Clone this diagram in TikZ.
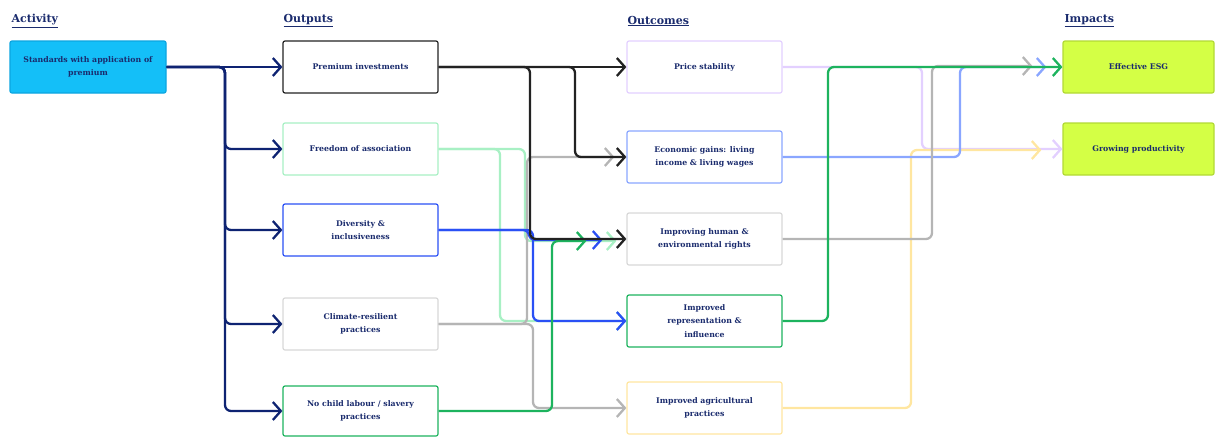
\documentclass[tikz,border=0pt]{standalone}
\usepackage{fontspec}
\setmainfont{DejaVu Serif}
\usetikzlibrary{%
  arrows.meta,% Straight Barb
  positioning%
}
\definecolor{txtnavy}{HTML}{1A2B6D}
\definecolor{navy}{HTML}{0E2372}
\definecolor{actfill}{HTML}{14BFF8}
\definecolor{actline}{HTML}{0BA5E0}
\definecolor{blk}{HTML}{222222}
\definecolor{lgreen}{HTML}{A8F0C4}
\definecolor{blu}{HTML}{2A50F5}
\definecolor{gry}{HTML}{B5B5B5}
\definecolor{lgry}{HTML}{D8D8D8}
\definecolor{grn}{HTML}{1DB35E}
\definecolor{lav}{HTML}{E3D0FF}
\definecolor{lblue}{HTML}{8AA6FF}
\definecolor{yel}{HTML}{FFE6A0}
\definecolor{lime}{HTML}{D4FF45}
\definecolor{limeline}{HTML}{B2D935}

\begin{document}
\begin{tikzpicture}[x=1pt,y=-1pt,
  box/.style={draw,line width=1.2pt,rounded corners=2pt,fill=white,minimum width=155pt,minimum height=52pt,inner sep=0pt,align=center,text=txtnavy,font=\bfseries\fontsize{7.8}{13.5}\selectfont},
  head/.style={anchor=west,text=txtnavy,font=\bfseries\fontsize{11}{13}\selectfont},
  flow/.style={line width=2.3pt,rounded corners=6pt,-{Straight Barb[length=8pt,width=18pt]}}]
 \useasboundingbox (0,0) rectangle (1215,437);

 % Spaltenkoepfe
 \node[head] (hAct) at (8,21) {\underline{Activity}};
 \node[head] (hOut) at (280,21) {\underline{Outputs}};
 \node[head] (hOc) at (624,21) {\underline{Outcomes}};
 \node[head] (hImp) at (1061,21) {\underline{Impacts}};

 % Activity
 \node[box,draw=actline,fill=actfill,minimum width=156pt] (act) at (88,67) {Standards with application of\\premium};

 % Outputs
 \node[box,draw=blk] (prem) at (360.5,67) {Premium investments};
 \node[box,draw=lgreen] (free) at (360.5,149) {Freedom of association};
 \node[box,draw=blu] (div) at (360.5,230) {Diversity \&\\inclusiveness};
 \node[box,draw=lgry] (clim) at (360.5,324) {Climate-resilient\\practices};
 \node[box,draw=grn,minimum height=50pt] (child) at (360.5,411) {No child labour / slavery\\practices};

 % Outcomes
 \node[box,draw=lav] (price) at (704.5,67) {Price stability};
 \node[box,draw=lblue] (econ) at (704.5,157) {Economic gains: living\\income \& living wages};
 \node[box,draw=lgry] (hum) at (704.5,239) {Improving human \&\\environmental rights};
 \node[box,draw=grn] (rep) at (704.5,321) {Improved\\representation \&\\influence};
 \node[box,draw=yel] (agri) at (704.5,408) {Improved agricultural\\practices};

 % Impacts
 \node[box,draw=limeline,fill=lime,minimum width=151pt] (esg) at (1138.5,67) {Effective ESG};
 \node[box,draw=limeline,fill=lime,minimum width=151pt] (prod) at (1138.5,149) {Growing productivity};

 % Sammelschienen (x-Lage)
 \coordinate (busAct) at (225,0);
 \coordinate (busPremA) at (530,0);
 \coordinate (busPremB) at (575,0);
 \coordinate (busFreeA) at (500,0);
 \coordinate (busFreeB) at (525,0);
 \coordinate (busDivA) at (529,0);
 \coordinate (busDivB) at (533,0);
 \coordinate (busClimA) at (527,0);
 \coordinate (busClimB) at (533,0);
 \coordinate (busChild) at (552,0);
 \coordinate (busPrice) at (922,0);
 \coordinate (busEcon) at (960,0);
 \coordinate (busHum) at (932,0);
 \coordinate (busRep) at (828,0);
 \coordinate (busAgri) at (911,0);

 % Outputs -> Outcomes
 \draw[flow,lgreen] (free.east) -- (free.east -| busFreeA) |- (rep.west);
 \draw[flow,lgreen] (free.east) -- (free.east -| busFreeB) |- ([xshift=-10pt,yshift=-2pt]hum.west);
 \draw[flow,gry] (clim.east) -- (clim.east -| busClimA) |- ([xshift=-12pt]econ.west);
 \draw[flow,gry] (clim.east) -- (clim.east -| busClimB) |- (agri.west);
 \draw[flow,blu] (div.east) -- (div.east -| busDivB) |- (rep.west);
 \draw[flow,blu] (div.east) -- (div.east -| busDivA) |- ([xshift=-24pt,yshift=-1pt]hum.west);
 \draw[flow,grn] (child.east) -- (child.east -| busChild) |- ([xshift=-40pt,yshift=-2pt]hum.west);
 \draw[flow,blk] (prem.east) -- (price.west);
 \draw[flow,blk] (prem.east) -- (prem.east -| busPremA) |- (hum.west);
 \draw[flow,blk] (prem.east) -- (prem.east -| busPremB) |- (econ.west);

 % Outcomes -> Impacts
 \draw[flow,lav] (price.east) -- (price.east -| busPrice) |- (prod.west);
 \draw[flow,yel] (agri.east) -- (agri.east -| busAgri) |- ([xshift=-21pt,yshift=-1pt]prod.west);
 \draw[flow,lblue] (econ.east) -- (econ.east -| busEcon) |- ([xshift=-16pt]esg.west);
 \draw[flow,gry] (hum.east) -- (hum.east -| busHum) |- ([xshift=-30pt,yshift=1pt]esg.west);
 \draw[flow,grn] (rep.east) -- (rep.east -| busRep) |- (esg.west);

 % Activity -> Outputs
 \draw[flow,navy] (act.east) -- (prem.west);
 \foreach \tgt in {free,div,clim,child}
   \draw[flow,navy] (act.east) -- (act.east -| busAct) |- (\tgt.west);
\end{tikzpicture}
\end{document}
